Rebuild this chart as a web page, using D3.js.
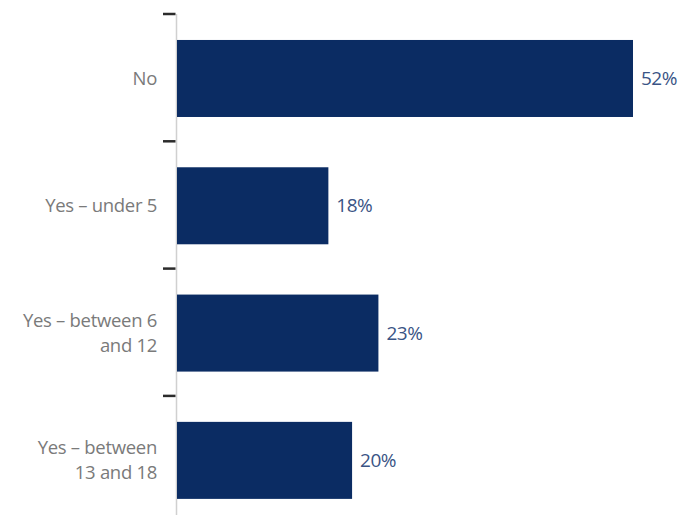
<!DOCTYPE html>
<html><head><meta charset="utf-8">
<script src="https://cdn.jsdelivr.net/npm/d3@7"></script>
<style>body{margin:0;background:#fff;} svg{display:block;}</style>
</head><body>
<svg id="chart" width="680" height="515"></svg>
<script>
const categories = [["No"], ["Yes – under 5"], ["Yes – between 6", "and 12"], ["Yes – between", "13 and 18"]];
const values = [52, 17.3, 23, 20];
const valueLabels = ["52%", "18%", "23%", "20%"];

(function() {
const svg = d3.select("#chart");
const x0 = 176.5, y0 = 14, step = 127.3;
const pi = 0.395, po = 0.204;
const x = d3.scaleLinear().domain([0, 52]).range([x0, 633]);
const y = d3.scaleBand().domain(d3.range(categories.length))
  .range([y0, y0 + step * (categories.length - pi + 2 * po)]).paddingInner(pi).paddingOuter(po);

svg.append("line").attr("x1", x0).attr("x2", x0).attr("y1", y0).attr("y2", 515)
  .attr("stroke", "#d0d0d0").attr("stroke-width", 1.5);
const ticks = d3.range(categories.length + 1).map(i => y0 + i * step);
svg.selectAll(".tk").data(ticks).enter().append("line")
  .attr("x1", 163).attr("x2", 175.5).attr("y1", d => d).attr("y2", d => d)
  .attr("stroke", "#2b2b2b").attr("stroke-width", 2.5);

svg.selectAll(".bar").data(values).enter().append("rect")
  .attr("x", x0 + 0.5).attr("y", (d, i) => y(i))
  .attr("width", d => x(d) - x0 - 0.5).attr("height", y.bandwidth())
  .attr("fill", "#0b2c63");

svg.selectAll(".val").data(values).enter().append("text")
  .attr("x", d => x(d) + 8).attr("y", (d, i) => y(i) + y.bandwidth() / 2)
  .attr("dy", "0.35em").attr("fill", "#3a5485")
  .style("font-family", "'Open Sans', sans-serif").style("font-size", "19px")
  .style("letter-spacing", "-0.5px")
  .text((d, i) => valueLabels[i]);

const lab = svg.selectAll(".cat").data(categories).enter().append("text")
  .attr("text-anchor", "end").attr("fill", "#7a7a7a")
  .style("font-family", "'Open Sans', sans-serif").style("font-size", "18.5px")
  .style("letter-spacing", "-0.3px")
  .attr("transform", (d, i) => `translate(157,${y(i) + y.bandwidth() / 2})`);
lab.each(function(d) {
  const t = d3.select(this);
  const lh = 25;
  d.forEach((line, k) => {
    t.append("tspan").attr("x", 0)
      .attr("y", (k - (d.length - 1) / 2) * lh).attr("dy", "0.35em").text(line);
  });
});
})();
</script>
</body></html>
